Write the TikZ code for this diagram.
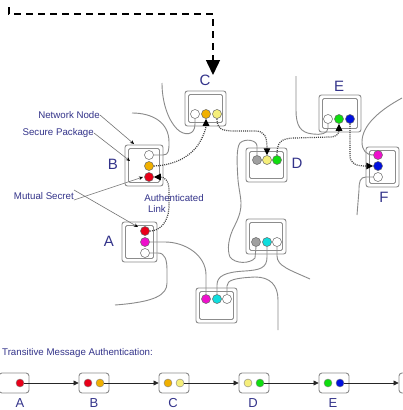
\documentclass[tikz,border=0pt]{standalone}
\usepackage{fontspec}
\setmainfont{Liberation Sans}
\usetikzlibrary{arrows.meta}
\definecolor{wiregray}{HTML}{8A8A8A}
\definecolor{boxgray}{HTML}{8C8C8C}
\definecolor{txtblue}{HTML}{33338A}
\definecolor{cred}{HTML}{E8001A}
\definecolor{corange}{HTML}{F0B000}
\definecolor{cyellow}{HTML}{F5EE7A}
\definecolor{cgreen}{HTML}{10DD10}
\definecolor{cblue}{HTML}{0010DD}
\definecolor{cmag}{HTML}{EE10CC}
\definecolor{ccyan}{HTML}{10DDDD}
\definecolor{cgray}{HTML}{A0A0A0}
\tikzset{
  obox/.style={draw=boxgray,line width=0.9pt,rounded corners=2.5pt,inner sep=0pt},
  ibox/.style={draw=boxgray,line width=0.9pt,rounded corners=1.5pt,inner sep=0pt},
  dot/.style={circle,draw=black!60,line width=0.5pt,minimum size=9pt,inner sep=0pt},
  sdot/.style={circle,draw=black!50,line width=0.4pt,minimum size=8pt,inner sep=0pt},
  wire/.style={draw=wiregray,line width=0.9pt},
  link/.style={draw=black!75,line width=1.2pt,dash pattern=on 1pt off 1.1pt,-{Triangle[length=7pt,width=6.5pt,black]}},
  leader/.style={draw=black!55,line width=0.6pt,-{Stealth[length=4pt,width=3.5pt,black]}},
  letter/.style={text=txtblue,font=\fontsize{15}{15}\selectfont,inner sep=0pt},
  note/.style={text=txtblue,font=\fontsize{9.7}{11}\selectfont,inner sep=0pt},
  sbox/.style={draw=boxgray,line width=0.9pt,rounded corners=3pt,minimum width=30pt,minimum height=20pt,inner sep=0pt},
  sletter/.style={text=txtblue,font=\fontsize{13}{13}\selectfont,inner sep=0pt},
  chain/.style={draw=black!85,line width=0.7pt,-{Triangle[length=5pt,width=5pt]}},
}
\newcommand\netbox[5]{%
  \node[obox,minimum width=#4,minimum height=#5] (#1) at (#2,#3) {};
  \node[ibox,minimum width=#4-7,minimum height=#5-7] (#1i) at (#2,#3) {};}
\begin{document}
\begin{tikzpicture}[x=1pt,y=-1pt]
\useasboundingbox[fill=white] (0,0) rectangle (402,410);

% ---------- top dashed arrow
\coordinate (topstart) at (9,7);
\coordinate (topcorner) at (213,14);
\coordinate (topend) at (213,75);
\draw[line width=1.5pt,dash pattern=on 7pt off 5pt,-{Triangle[length=15pt,width=14pt]}]
  (topstart) |- (topcorner) -- (topend);

% ---------- boxes
\netbox{A}{139.5}{242}{35}{40}
\netbox{B}{144}{165.5}{38}{41}
\netbox{C}{205.5}{108.5}{41}{35}
\netbox{D}{266.5}{165}{41}{34}
\netbox{E}{340}{113.5}{42}{37}
\netbox{F}{382.5}{167}{33}{40}
\netbox{G}{216.5}{305.5}{41}{35}
\netbox{H}{266}{236.5}{40}{35}

% ---------- circles
\node[dot,fill=cred]    (Ar) at (145,231) {};
\node[dot,fill=cmag]    (Am) at (145,242) {};
\node[dot,fill=white]   (Aw) at (145,253) {};
\node[dot,fill=white]   (Bw) at (149,155) {};
\node[dot,fill=corange] (Bo) at (149,166) {};
\node[dot,fill=cred]    (Br) at (149,177) {};
\node[dot,fill=white]   (Cw) at (195,114) {};
\node[dot,fill=corange] (Co) at (206,114) {};
\node[dot,fill=cyellow] (Cy) at (217,114) {};
\node[dot,fill=cgray]   (Dg) at (257,160) {};
\node[dot,fill=cyellow] (Dy) at (267,160) {};
\node[dot,fill=cgreen]  (Dn) at (277,160) {};
\node[dot,fill=white]   (Ew) at (328,119) {};
\node[dot,fill=cgreen]  (En) at (339,119) {};
\node[dot,fill=cblue]   (Eb) at (350,119) {};
\node[dot,fill=cmag]    (Fm) at (378,155) {};
\node[dot,fill=cblue]   (Fb) at (378,166) {};
\node[dot,fill=white]   (Fw) at (378,177) {};
\node[dot,fill=cmag]    (Gm) at (206,299) {};
\node[dot,fill=ccyan]   (Gc) at (217,299) {};
\node[dot,fill=white]   (Gw) at (227,299) {};
\node[dot,fill=cgray]   (Hg) at (256,242) {};
\node[dot,fill=ccyan]   (Hc) at (267,242) {};
\node[dot,fill=white]   (Hw) at (277,242) {};

% ---------- letters
\node[letter] (lA) at (109,241) {A};
\node[letter] (lB) at (113,164) {B};
\node[letter] (lC) at (205,80) {C};
\node[letter] (lD) at (297,163) {D};
\node[letter] (lE) at (339,86) {E};
\node[letter] (lF) at (384,197) {F};

% ---------- wires (network cables)
\coordinate (w1end) at (132,113);
\draw[wire] (Bw.east) -- (163,155) .. controls (169,155) and (169,150) .. (169,142)
  .. controls (169,122) and (152,113) .. (w1end);
\coordinate (w2end) at (162,83);
\draw[wire] (Cw.south) -- (195,124) .. controls (195,136) and (184,136) .. (177,129)
  .. controls (168,120) and (162,102) .. (w2end);
\coordinate (w4end) at (296,76);
\draw[wire] (Ew.south) -- (328,128) .. controls (328,134) and (320,135) .. (313,134)
  .. controls (300,133) and (296,125) .. (296,110) -- (w4end);
\coordinate (w5end) at (402,98);
\draw[wire] (Fm.west) .. controls (366,155) and (362,150) .. (362,142)
  .. controls (362,125) and (380,110) .. (w5end);
\coordinate (w6end) at (357,215);
\draw[wire] (Fw.west) -- (366,177) .. controls (360,177) and (359,182) .. (359,190) -- (w6end);
\draw[wire] (Dg.north) -- (257,146) .. controls (257,140) and (245,138) .. (240,143)
  .. controls (236,148) and (237,165) .. (238,180)
  .. controls (240,200) and (245,205) .. (235,225)
  .. controls (228,238) and (227,250) .. (230,257)
  .. controls (235,264) and (250,264) .. (255,258) -- (Hg.south);
\draw[wire] (Hc.south) -- (267,257) .. controls (267,268) and (260,270) .. (245,271)
  .. controls (225,272) and (217,276) .. (217,285) -- (Gc.north);
\coordinate (w7end) at (310,279);
\draw[wire] (Hw.south) -- (277,256) .. controls (277,266) and (290,270) .. (w7end);
\coordinate (w8end) at (278,330);
\draw[wire] (Gw.north) -- (227,286) .. controls (227,280) and (235,278) .. (255,277)
  .. controls (270,277) and (278,285) .. (278,300) -- (w8end);
\draw[wire] (Am.east) -- (165,242) .. controls (185,242) and (206,255) .. (206,275) -- (Gm.north);
\coordinate (w9end) at (115,305);
\draw[wire] (Aw.east) -- (158,253) .. controls (165,253) and (167,260) .. (167,270) -- (167,283)
  .. controls (167,295) and (155,302) .. (w9end);

% ---------- authenticated links
\draw[link] (Ar.east) .. controls (160,231) and (169,222) .. (169,205) -- (169,190)
  .. controls (169,180) and (164,177) .. (Br.east);
\draw[link] (Bo.east) .. controls (180,165) and (195,152) .. (201,140)
  .. controls (205,132) and (206,128) .. (Co.south);
\draw[link] (Cy.south) .. controls (217,128) and (220,131) .. (235,131) -- (255,131)
  .. controls (265,131) and (267,137) .. (Dy.north);
\draw[link] (Dn.north) .. controls (277,143) and (280,138) .. (295,138) -- (330,137)
  .. controls (337,137) and (339,133) .. (En.south);
\draw[link] (Eb.south) -- (350,155) .. controls (350,164) and (356,166) .. (Fb.west);

% ---------- annotations
\node[note,anchor=east] (nn) at (100,115) {Network Node};
\node[note,anchor=east] (sp) at (94,133) {Secure Package};
\node[note,anchor=east] (ms) at (74,196) {Mutual Secret};
\node[note] (al1) at (174,198) {Authenticated};
\node[note,anchor=east] (al2) at (166,209) {Link};
\coordinate (nnT) at (134,144);
\coordinate (spT) at (130,161);
\coordinate (msT1) at (143,177);
\coordinate (msT2) at (138,227);
\draw[leader] (nn.east) -- (nnT);
\draw[leader] (sp.east) -- (spT);
\draw[leader] ([yshift=-4pt]ms.east) -- (msT1);
\draw[leader] ([yshift=6pt]ms.east) -- (msT2);

% ---------- transitive chain
\node[note,anchor=west] (tma) at (2,353) {Transitive Message Authentication:};
\node[sbox] (sA) at (14,383) {};
\node[sbox] (sB) at (94,383) {};
\node[sbox] (sC) at (174,383) {};
\node[sbox] (sD) at (254,383) {};
\node[sbox] (sE) at (334,383) {};
\node[sbox] (sF) at (414,383) {};
\node[sdot,fill=cred]    (sAr) at (20,383) {};
\node[sdot,fill=cred]    (sBr) at (88,383) {};
\node[sdot,fill=corange] (sBo) at (100,383) {};
\node[sdot,fill=corange] (sCo) at (168,383) {};
\node[sdot,fill=cyellow] (sCy) at (180,383) {};
\node[sdot,fill=cyellow] (sDy) at (248,383) {};
\node[sdot,fill=cgreen]  (sDg) at (260,383) {};
\node[sdot,fill=cgreen]  (sEg) at (328,383) {};
\node[sdot,fill=cblue]   (sEb) at (340,383) {};
\draw[chain] (sAr.east) -- (sB.west);
\draw[chain] (sBo.east) -- (sC.west);
\draw[chain] (sCy.east) -- (sD.west);
\draw[chain] (sDg.east) -- (sE.west);
\draw[chain] (sEb.east) -- (sF.west);
\node[sletter] (slA) at (20,403) {A};
\node[sletter] (slB) at (94,403) {B};
\node[sletter] (slC) at (173,403) {C};
\node[sletter] (slD) at (253,403) {D};
\node[sletter] (slE) at (333,403) {E};
\end{tikzpicture}
\end{document}
